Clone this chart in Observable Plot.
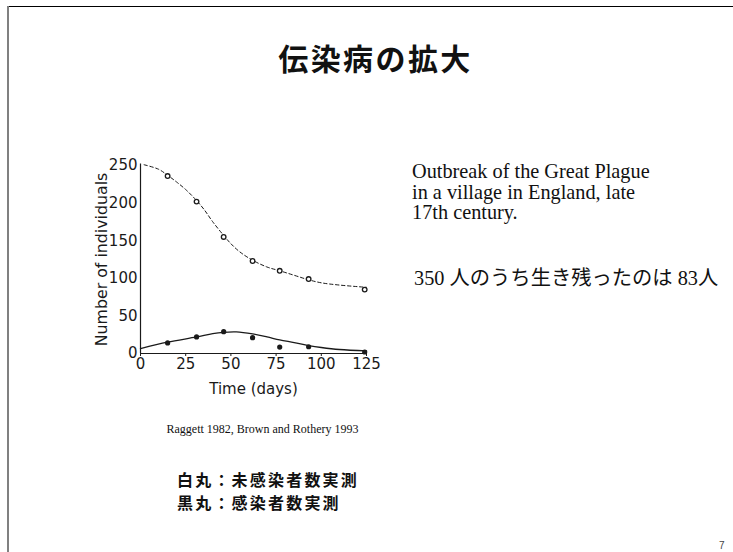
<!DOCTYPE html>
<html>
<head>
<meta charset="utf-8">
<script src="https://cdn.jsdelivr.net/npm/d3@7"></script>
<script src="https://cdn.jsdelivr.net/npm/@observablehq/plot@0.6"></script>
<style>
  html, body { margin: 0; padding: 0; background: #fff; }
  #slide { position: relative; width: 733px; height: 552px; overflow: hidden; background: #fff; }
  .abs { position: absolute; white-space: nowrap; }
  .jp { font-family: "Noto Sans CJK JP", sans-serif; }
  .serif { font-family: "Liberation Serif", "Times New Roman", serif; }
  #frameTop { position: absolute; left: 8px; right: 0; top: 6px; height: 1.3px; background: #000; }
  #frameLeft { position: absolute; left: 7px; width: 2px; top: 6px; bottom: 0; background: #808080; }
  #title { left: 375.5px; top: 42px; transform: translateX(-50%); font-size: 30px; font-weight: 700; letter-spacing: 2.4px; line-height: 1; color: #111; }
  #note { left: 412px; top: 161px; font-size: 20.3px; line-height: 20.7px; color: #111; }
  #survivors { left: 414px; top: 266px; font-size: 20.3px; line-height: 20px; color: #111; }
  #source { left: 262.5px; top: 423px; transform: translateX(-50%); font-size: 12px; line-height: 1; color: #111; }
  #legend { left: 177px; top: 467.5px; font-size: 16px; font-weight: 700; letter-spacing: 2.2px; line-height: 23px; color: #111; }
  #page { left: 719px; top: 540.5px; font-size: 10px; line-height: 1; font-family: "Liberation Sans", sans-serif; color: #444; }
  #chart { position: absolute; left: 60px; top: 150px; }
</style>
</head>
<body>
<div id="slide">
  <div id="frameTop"></div>
  <div id="frameLeft"></div>
  <div id="title" class="abs jp">伝染病の拡大</div>
  <div id="note" class="abs serif">Outbreak of the Great Plague<br>in a village in England, late<br>17th century.</div>
  <div id="survivors" class="abs"><span class="serif">350</span> <span class="jp">人のうち生き残ったのは</span> <span class="serif">83</span><span class="jp">人</span></div>
  <div id="source" class="abs serif">Raggett 1982, Brown and Rothery 1993</div>
  <div id="legend" class="abs jp">白丸：未感染者数実測<br>黒丸：感染者数実測</div>
  <div id="page" class="abs">7</div>
  <div id="chart"></div>
</div>
<script>
// Observed counts (days since outbreak start)
const obsDays = [15, 31, 46, 62, 77, 93, 124];
const susceptibleObs = [236, 202, 155, 123, 110, 99, 85];   // open circles
const infectedObs = [14, 22, 29, 21, 8.5, 9, 2];            // filled circles

// Model curves
const susceptibleFitDays = [2, 10, 15, 20, 25, 30, 35, 40, 46, 50, 55, 62, 70, 77, 85, 93, 100, 110, 125];
const susceptibleFit = [251, 245, 237, 228, 218, 206, 192, 175, 157, 146, 135, 124, 115, 110, 104, 98, 94, 91, 88];
const infectedFitDays = [0, 15, 31, 40, 46, 53, 62, 70, 77, 85, 93, 100, 110, 125];
const infectedFit = [6.5, 15, 22, 26.5, 28.2, 28.7, 26, 22, 18, 14.5, 10.6, 8, 5.3, 3.5];

const xTicks = [0, 25, 50, 75, 100, 125];
const yTicks = [0, 50, 100, 150, 200, 250];

const obs = obsDays.map((d, i) => ({day: d, s: susceptibleObs[i], i: infectedObs[i]}));
const sFit = susceptibleFitDays.map((d, i) => ({day: d, v: susceptibleFit[i]}));
const iFit = infectedFitDays.map((d, i) => ({day: d, v: infectedFit[i]}));

const ink = "#1a1a1a";

const chart = Plot.plot({
  width: 330,
  height: 260,
  marginLeft: 80,
  marginRight: 24,
  marginTop: 15,
  marginBottom: 57,
  style: {fontFamily: "DejaVu Sans, sans-serif", fontSize: "15px", color: ink, background: "transparent"},
  x: {domain: [0, 125]},
  y: {domain: [0, 250]},
  marks: [
    Plot.axisY({ticks: yTicks, tickSize: 0, tickPadding: 3, label: null, fontSize: 15}),
    Plot.axisX({ticks: xTicks, tickSize: 3, tickPadding: 2, label: null, fontSize: 15}),
    // axis titles
    Plot.text(["Number of individuals"], {frameAnchor: "left", dx: -39, rotate: -90,
      textAnchor: "middle", lineAnchor: "middle", fontSize: 15.8, fill: ink}),
    Plot.text(["Time (days)"], {frameAnchor: "bottom", dy: 36,
      textAnchor: "middle", lineAnchor: "middle", fontSize: 15, fill: ink}),
    Plot.ruleX([0], {y1: 0, y2: 252, stroke: ink, strokeWidth: 1.2}),
    Plot.ruleY([0], {stroke: ink, strokeWidth: 1.2}),
    Plot.line(sFit, {x: "day", y: "v", curve: "catmull-rom", stroke: ink, strokeWidth: 1, strokeDasharray: "3.4,2.6"}),
    Plot.line(iFit, {x: "day", y: "v", curve: "catmull-rom", stroke: ink, strokeWidth: 1.3}),
    Plot.dot(obs, {x: "day", y: "s", r: 2.3, stroke: ink, strokeWidth: 1.3, fill: "white"}),
    Plot.dot(obs, {x: "day", y: "i", r: 2.6, fill: ink, stroke: "none"})
  ]
});
document.getElementById("chart").append(chart);
</script>
</body>
</html>
